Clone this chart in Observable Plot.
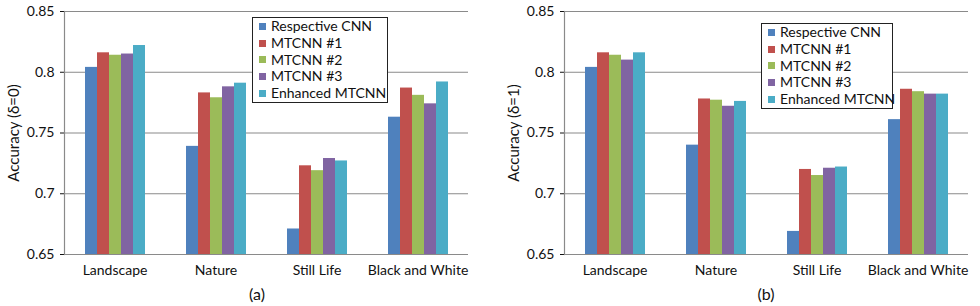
<!DOCTYPE html>
<html>
<head>
<meta charset="utf-8">
<script src="https://cdn.jsdelivr.net/npm/d3@7"></script>
<script src="https://cdn.jsdelivr.net/npm/@observablehq/plot@0.6"></script>
<style>
  html, body { margin: 0; padding: 0; background: #fff; }
  #root { position: relative; width: 980px; height: 306px; overflow: hidden; font-family: Lato, "Noto Sans", sans-serif; }
  .panel { position: absolute; top: 0; }
  .panel svg text { font-family: Lato, "Noto Sans", sans-serif; font-size: 14px; fill: #111; }
  .panel svg g[aria-label="y-axis label"] text { font-size: 15px; }
  .legend { position: absolute; background: #fff; border: 1.5px solid #222; box-sizing: border-box; padding-left: 6px; font-size: 14px; color: #111; }
  .legend .row { height: 16.8px; line-height: 16.8px; white-space: nowrap; display: flex; align-items: center; }
  .legend .sw { width: 7px; height: 7px; margin-right: 5px; flex: none; }
  .caption { position: absolute; font-size: 16px; color: #111; transform: translateX(-50%); }
</style>
</head>
<body>
<div id="root"></div>
<script>
const categories = ["Landscape", "Nature", "Still Life", "Black and White"];
const series = ["Respective CNN", "MTCNN #1", "MTCNN #2", "MTCNN #3", "Enhanced MTCNN"];
const colors = ["#4F81BD", "#C0504D", "#9BBB59", "#8064A2", "#4BACC6"];
const yTicks = [0.65, 0.7, 0.75, 0.8, 0.85];

// accuracy, delta = 0 ; rows = series, columns = categories
const respectiveCNN0 = [0.804, 0.739, 0.671, 0.763];
const mtcnn1_0       = [0.816, 0.783, 0.723, 0.787];
const mtcnn2_0       = [0.814, 0.779, 0.719, 0.781];
const mtcnn3_0       = [0.815, 0.788, 0.729, 0.774];
const enhanced0      = [0.822, 0.791, 0.727, 0.792];

// accuracy, delta = 1
const respectiveCNN1 = [0.804, 0.740, 0.669, 0.761];
const mtcnn1_1       = [0.816, 0.778, 0.720, 0.786];
const mtcnn2_1       = [0.814, 0.777, 0.715, 0.784];
const mtcnn3_1       = [0.810, 0.772, 0.721, 0.782];
const enhanced1      = [0.816, 0.776, 0.722, 0.782];

function table(rows) {
  const out = [];
  categories.forEach((c, ci) => rows.forEach((r, si) => out.push({category: c, series: series[si], value: r[ci]})));
  return out;
}
const data0 = table([respectiveCNN0, mtcnn1_0, mtcnn2_0, mtcnn3_0, enhanced0]);
const data1 = table([respectiveCNN1, mtcnn1_1, mtcnn2_1, mtcnn3_1, enhanced1]);

const root = document.getElementById("root");
const fmt = d => String(+d.toFixed(2));

function panel(data, yLabel, left, marginLeft, marginRight, legendPos, caption, captionX) {
  const chart = Plot.plot({
    width: 490,
    height: 306,
    marginLeft, marginRight,
    marginTop: 11,
    marginBottom: 52,
    style: {fontFamily: "Lato, 'Noto Sans', sans-serif", fontSize: "14px", color: "#111", background: "transparent"},
    fx: {domain: categories, padding: 0, label: null, tickSize: 0, tickPadding: 11},
    x: {domain: series, axis: null, paddingInner: 0, paddingOuter: 1.53},
    y: {domain: [0.65, 0.85], ticks: yTicks, tickFormat: fmt, label: yLabel, labelAnchor: "center", labelArrow: false, labelOffset: 56, tickSize: 4, tickPadding: 6},
    color: {domain: series, range: colors},
    marks: [
      Plot.ruleY(yTicks, {stroke: "#8a8a8a", strokeWidth: 1.2}),
      Plot.frame({anchor: "left", facetAnchor: "left", stroke: "#8a8a8a", strokeWidth: 1.2}),
      Plot.barY(data, {fx: "category", x: "series", y1: 0.65, y2: "value", fill: "series"}),
      Plot.ruleY([0.65], {stroke: "#8a8a8a", strokeWidth: 1.2})
    ]
  });
  const wrap = document.createElement("div");
  wrap.className = "panel";
  wrap.style.left = left + "px";
  wrap.appendChild(chart);
  root.appendChild(wrap);

  const lg = document.createElement("div");
  lg.className = "legend";
  lg.style.left = legendPos[0] + "px";
  lg.style.top = legendPos[1] + "px";
  lg.style.width = legendPos[2] + "px";
  series.forEach((s, i) => {
    const row = document.createElement("div");
    row.className = "row";
    const sw = document.createElement("span");
    sw.className = "sw";
    sw.style.background = colors[i];
    row.appendChild(sw);
    row.appendChild(document.createTextNode(s));
    lg.appendChild(row);
  });
  root.appendChild(lg);

  const cap = document.createElement("div");
  cap.className = "caption";
  cap.style.left = captionX + "px";
  cap.style.top = "284px";
  cap.textContent = caption;
  root.appendChild(cap);
}

panel(data0, "Accuracy (δ=0)", 0, 63, 21, [252, 17, 136], "(a)", 257);
panel(data1, "Accuracy (δ=1)", 490, 72, 11, [761, 23, 132], "(b)", 766);
</script>
</body>
</html>
